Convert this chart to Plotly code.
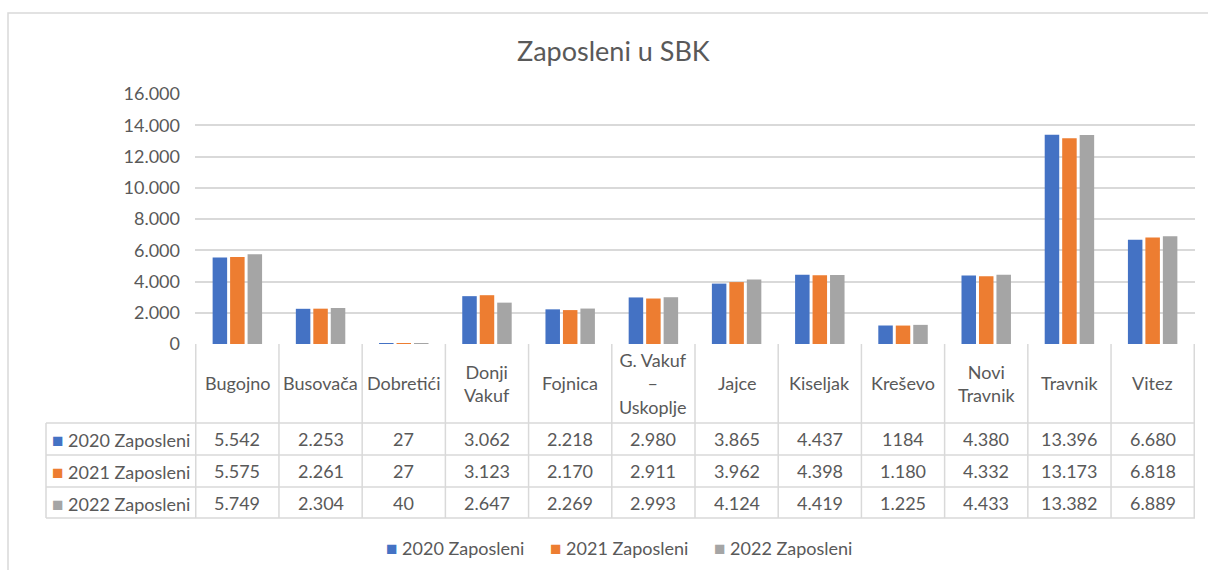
import plotly.graph_objects as go

# ---------------- data ----------------
categories = ["Bugojno", "Busovača", "Dobretići", "Donji Vakuf", "Fojnica",
              "G. Vakuf – Uskoplje", "Jajce", "Kiseljak", "Kreševo",
              "Novi Travnik", "Travnik", "Vitez"]
category_labels = ["Bugojno", "Busovača", "Dobretići", "Donji<br>Vakuf", "Fojnica",
                   "G. Vakuf<br>–<br>Uskoplje", "Jajce", "Kiseljak", "Kreševo",
                   "Novi<br>Travnik", "Travnik", "Vitez"]
series_names = ["2020 Zaposleni", "2021 Zaposleni", "2022 Zaposleni"]
labels_2020 = ["5.542", "2.253", "27", "3.062", "2.218", "2.980", "3.865", "4.437", "1184", "4.380", "13.396", "6.680"]
labels_2021 = ["5.575", "2.261", "27", "3.123", "2.170", "2.911", "3.962", "4.398", "1.180", "4.332", "13.173", "6.818"]
labels_2022 = ["5.749", "2.304", "40", "2.647", "2.269", "2.993", "4.124", "4.419", "1.225", "4.433", "13.382", "6.889"]
values_2020 = [int(s.replace(".", "")) for s in labels_2020]
values_2021 = [int(s.replace(".", "")) for s in labels_2021]
values_2022 = [int(s.replace(".", "")) for s in labels_2022]
y_ticks = [0, 2000, 4000, 6000, 8000, 10000, 12000, 14000, 16000]
colors = ["#4472C4", "#ED7D31", "#A5A5A5"]

FONT = "Lato"
TXT = "#595959"
GRID = "#D9D9D9"
FS = 18

W, H = 1208, 570
L, R, T, B = 195, 13, 94, 226      # plot area 195..1195 x 94..344
PW, PH = W - L - R, H - T - B


def px(x):  # pixel x -> paper
    return (x - L) / PW


def py(y):  # pixel y -> paper
    return (H - B - y) / PH


fig = go.Figure()
for name, vals, col in zip(series_names, [values_2020, values_2021, values_2022], colors):
    fig.add_trace(go.Bar(name=name, x=categories, y=vals, marker_color=col,
                         marker_line_width=0, showlegend=False))

shapes = []
line = dict(color=GRID, width=1.5)
# outer chart border
shapes.append(dict(type="rect", xref="paper", yref="paper",
                   x0=px(8), x1=px(1214), y0=py(576), y1=py(13), line=line))
# data table horizontal lines
row_y = [423, 455, 487, 518]
for yy in row_y:
    shapes.append(dict(type="line", xref="paper", yref="paper",
                       x0=px(46), x1=px(1195), y0=py(yy), y1=py(yy), line=line))
# vertical lines between categories (x axis coordinates)
for i in range(len(categories) + 1):
    shapes.append(dict(type="line", xref="x", yref="paper",
                       x0=i - 0.5, x1=i - 0.5, y0=py(518), y1=0, line=line))
# left edge of legend column
shapes.append(dict(type="line", xref="paper", yref="paper",
                   x0=px(46), x1=px(46), y0=py(518), y1=py(423), line=line))

ann = []
# title
ann.append(dict(text="Zaposleni u SBK", xref="paper", yref="paper",
                x=px(613), y=py(50), showarrow=False,
                font=dict(family=FONT, size=27, color=TXT),
                xanchor="center", yanchor="middle"))
# category header
for cat, lab in zip(categories, category_labels):
    ann.append(dict(text=lab, xref="x", yref="paper", x=cat, y=py(383),
                    showarrow=False, font=dict(family=FONT, size=FS, color=TXT),
                    xanchor="center", yanchor="middle"))
# table rows
row_centers = [439, 471, 503]
for name, labs, col, yc in zip(series_names, [labels_2020, labels_2021, labels_2022], colors, row_centers):
    ann.append(dict(text=f"<span style='color:{col};font-size:19px'>■</span> {name}",
                    xref="paper", yref="paper", x=px(50), y=py(yc), showarrow=False,
                    font=dict(family=FONT, size=FS, color=TXT),
                    xanchor="left", yanchor="middle"))
    for cat, lab in zip(categories, labs):
        ann.append(dict(text=lab, xref="x", yref="paper", x=cat, y=py(yc),
                        showarrow=False, font=dict(family=FONT, size=FS, color=TXT),
                        xanchor="center", yanchor="middle"))

# bottom legend
legend_x = [384, 548, 712]
for name, col, lx in zip(series_names, colors, legend_x):
    ann.append(dict(text=f"<span style='color:{col};font-size:19px'>■</span> {name}",
                    xref="paper", yref="paper", x=px(lx), y=py(547), showarrow=False,
                    font=dict(family=FONT, size=FS, color=TXT),
                    xanchor="left", yanchor="middle"))

fig.update_layout(
    width=W, height=H,
    margin=dict(l=L, r=R, t=T, b=B),
    paper_bgcolor="white", plot_bgcolor="white",
    separators=",.",
    barmode="group", bargap=0.37, bargroupgap=0.17,
    font=dict(family=FONT, size=FS, color=TXT),
    shapes=shapes, annotations=ann,
    showlegend=False,
    xaxis=dict(showticklabels=False, showgrid=False, zeroline=False,
               showline=False, ticks=""),
    yaxis=dict(range=[0, 16000], tickvals=y_ticks, tickformat=",d",
               showgrid=True, gridcolor=GRID, gridwidth=1.5,
               zeroline=False, showline=False, ticks="",
               ticklabelstandoff=14,
               tickfont=dict(family=FONT, size=FS, color=TXT)),
)
fig.write_html("out.html", config={"displayModeBar": False},
               post_script="document.body.style.margin='0';document.body.style.overflow='hidden';")
